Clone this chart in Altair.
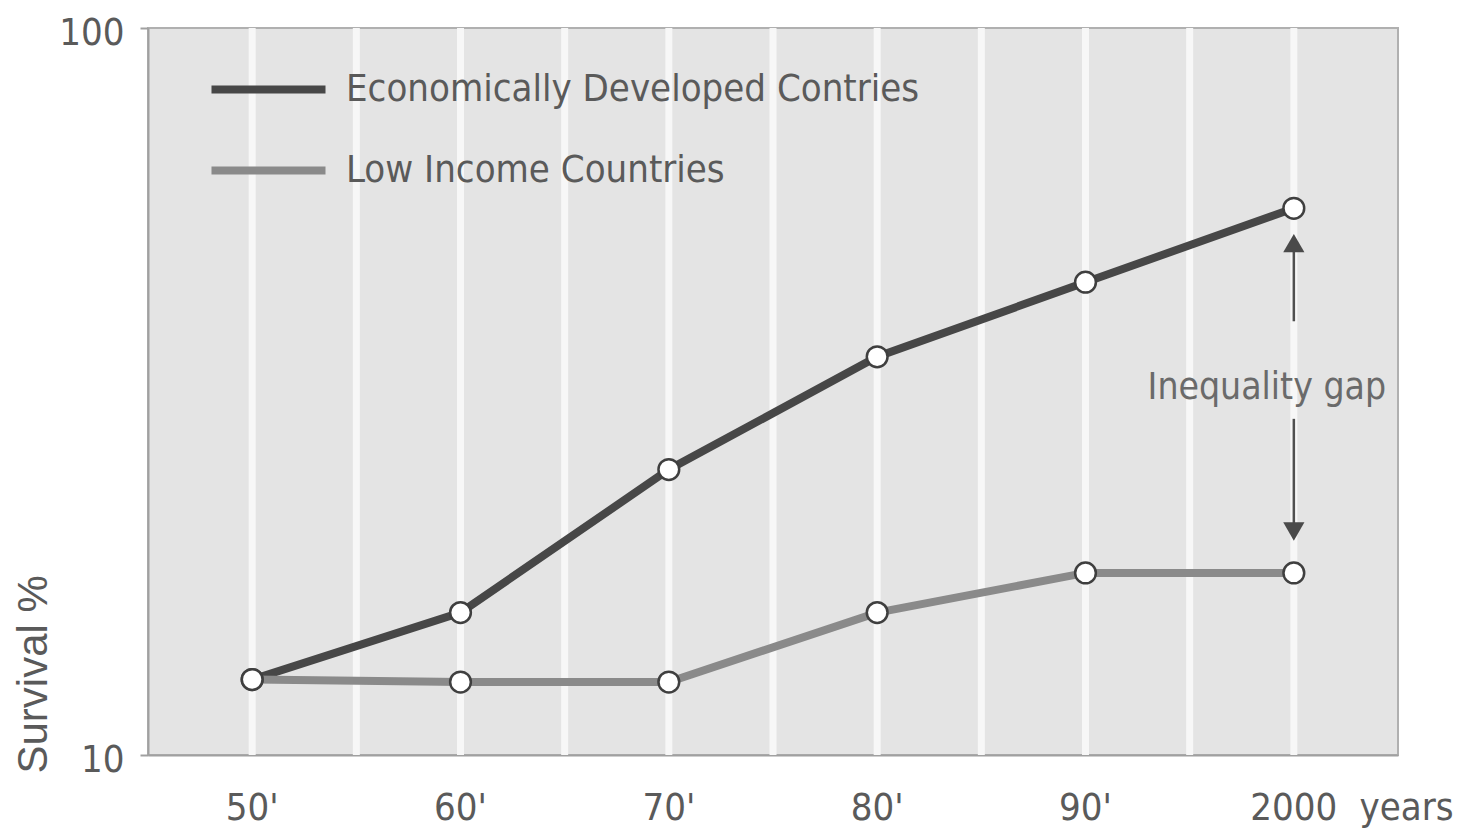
import altair as alt
import pandas as pd

decades = ["50'", "60'", "70'", "80'", "90'", "2000"]
developed = [12.7, 15.7, 24.7, 35.3, 44.7, 56.5]
low_income = [12.7, 12.6, 12.6, 15.7, 17.8, 17.8]
series_names = ["Economically Developed Contries", "Low Income Countries"]
series_colors = ["#474747", "#8a8a8a"]

rows = []
for d, v in zip(decades, developed):
    rows.append({"decade": d, "value": v, "series": series_names[0]})
for d, v in zip(decades, low_income):
    rows.append({"decade": d, "value": v, "series": series_names[1]})
df = pd.DataFrame(rows)

# arrow annotation data (values on the log scale)
arrow_segments = pd.DataFrame({
    "decade": ["2000", "2000"],
    "y1": [51.5, 20.2],
    "y2": [39.5, 29.0],
})
arrow_heads = pd.DataFrame({
    "decade": ["2000", "2000"],
    "value": [50.6, 20.3],
    "shape": ["triangle-up", "triangle-down"],
})
gap_label = pd.DataFrame({"decade": ["2000"], "value": [32.0], "text": ["Inequality gap"]})
grid_df = pd.DataFrame({"decade": decades})

FONT = "DejaVu Sans Condensed"
TEXT_COLOR = "#5a5a5a"
AXIS_COLOR = "#a0a0a0"

x_axis = alt.Axis(
    title="years",
    titleX=1305,
    titleY=64,
    titleAlign="right",
    titleBaseline="alphabetic",
    titleFont=FONT,
    titleFontSize=38,
    titleFontWeight="normal",
    titleColor=TEXT_COLOR,
    labelFont=FONT,
    labelFontSize=38,
    labelColor=TEXT_COLOR,
    labelAngle=0,
    labelAlign="center",
    labelBaseline="alphabetic",
    labelPadding=64,
    ticks=False,
    tickSize=0,
    domainColor=AXIS_COLOR,
    domainWidth=2,
    grid=False,
)
x_scale = alt.Scale(type="band", domain=decades, paddingInner=0, paddingOuter=0)
y_scale = alt.Scale(type="log", domain=[10, 100])
y_axis = alt.Axis(
    values=[10, 100],
    title="Survival %",
    titleFont="Liberation Sans",
    titleFontSize=42,
    titleFontWeight="normal",
    titleColor=TEXT_COLOR,
    titleAngle=-90,
    titleAlign="left",
    titleBaseline="middle",
    titleX=-115,
    titleY=745,
    labelFont=FONT,
    labelFontSize=38,
    labelColor=TEXT_COLOR,
    labelPadding=16,
    labelBaseline="middle",
    labelOffset=5,
    tickColor=AXIS_COLOR,
    tickSize=8,
    tickWidth=2,
    domainColor=AXIS_COLOR,
    domainWidth=2,
    grid=False,
)

x_enc = alt.X("decade:N", sort=decades, scale=x_scale, axis=x_axis)

grid_center = alt.Chart(grid_df).mark_rule(color="#f7f7f7", strokeWidth=7).encode(
    x=alt.X("decade:N", sort=decades, scale=x_scale, axis=x_axis, bandPosition=0.5)
)
grid_edge = alt.Chart(grid_df[1:]).mark_rule(color="#f7f7f7", strokeWidth=7).encode(
    x=alt.X("decade:N", sort=decades, scale=x_scale, axis=x_axis, bandPosition=0)
)

lines = alt.Chart(df).mark_line(strokeWidth=8).encode(
    x=x_enc,
    y=alt.Y("value:Q", scale=y_scale, axis=y_axis),
    color=alt.Color(
        "series:N",
        scale=alt.Scale(domain=series_names, range=series_colors),
        legend=alt.Legend(
            title=None,
            orient="none",
            legendX=59,
            legendY=0,
            symbolType="stroke",
            symbolSize=13000,
            symbolStrokeWidth=8,
            labelFont=FONT,
            labelFontSize=38,
            labelColor=TEXT_COLOR,
            labelOffset=16,
            rowPadding=-4,
            labelLimit=800,
        ),
    ),
    detail="series:N",
)

points = alt.Chart(df).mark_circle(
    size=430, fill="white", opacity=1, stroke="#3f3f3f", strokeWidth=2.5
).encode(
    x=x_enc,
    y=alt.Y("value:Q", scale=y_scale, axis=y_axis),
)

arrow_lines = alt.Chart(arrow_segments).mark_rule(color="#505050", strokeWidth=2.5).encode(
    x=x_enc,
    y=alt.Y("y1:Q", scale=y_scale, axis=y_axis),
    y2="y2:Q",
)
arrow_tips = alt.Chart(arrow_heads).mark_point(
    filled=True, size=450, color="#4a4a4a", opacity=1
).encode(
    x=x_enc,
    y=alt.Y("value:Q", scale=y_scale, axis=y_axis),
    shape=alt.Shape("shape:N", scale=None),
)
gap_text = alt.Chart(gap_label).mark_text(
    font=FONT, fontSize=37, color="#6a6a6a", dx=-27, align="center", baseline="middle"
).encode(
    x=x_enc,
    y=alt.Y("value:Q", scale=y_scale, axis=y_axis),
    text="text:N",
)

chart = alt.layer(
    grid_center, grid_edge, lines, points, arrow_lines, arrow_tips, gap_text
).properties(
    width=1250,
    height=727,
    autosize=alt.AutoSizeParams(type="none"),
    padding={"left": 140, "top": 20, "right": 57, "bottom": 77},
).configure_view(
    fill="#e4e4e4", stroke="#b0b0b0", strokeWidth=2
)

chart.save("out.html", embed_options={"renderer": "svg", "actions": False})
